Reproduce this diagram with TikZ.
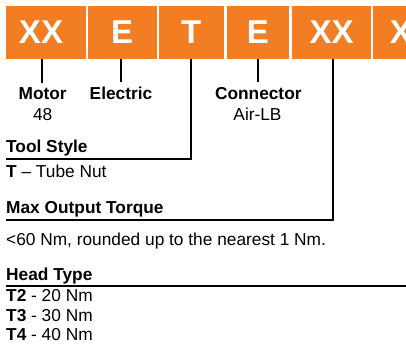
\documentclass[tikz,border=0pt]{standalone}
\usepackage{fontspec}
\setmainfont{Liberation Sans}
\usepackage{xcolor}
\usetikzlibrary{positioning}
\definecolor{codeorange}{RGB}{243,125,34}

\begin{document}
\begin{tikzpicture}[x=1pt, y=-1pt,
    codebox/.style={fill=codeorange, text=white, font=\fontsize{33}{36}\selectfont\bfseries,
        minimum height=53.3pt, inner sep=0pt, outer sep=0pt},
    tag/.style={font=\fontsize{17.3}{20}\selectfont, inner sep=0pt, anchor=base},
    boldtag/.style={tag, font=\fontsize{17.3}{20}\selectfont\bfseries},
    head/.style={boldtag, anchor=base west},
    entry/.style={tag, anchor=base west},
    lead/.style={line width=2pt, line join=miter}]

    \useasboundingbox (0,0) rectangle (406,352);

    % code boxes
    \begin{scope}
        \clip (6,0) rectangle (406,70);
        \node[codebox, minimum width=89.4pt] (b1) at (41,32.65) {XX};
        \node[codebox, minimum width=69pt] (b2) at (122.2,32.65) {E};
        \node[codebox, minimum width=65.3pt] (b3) at (191.3,32.65) {T};
        \node[codebox, minimum width=62.6pt] (b4) at (258,32.65) {E};
        \node[codebox, minimum width=78.7pt] (b5) at (331.7,32.65) {XX};
        \node[codebox, minimum width=77.4pt] (b6) at (412,32.65) {XX};
    \end{scope}

    % labels under the boxes
    \node[boldtag] (motor) at (42.7,100) {Motor};
    \node[tag] (motorval) at (42.7,120.7) {48};
    \node[boldtag] (electric) at (121,100) {Electric};
    \node[boldtag] (connector) at (258.3,100) {Connector};
    \node[tag] (connval) at (257.5,120.7) {Air-LB};

    \node[head] (tool) at (6,152.7) {Tool Style};
    \node[entry] (toolval) at (6,177.3) {\textbf{T} -- Tube Nut};

    \node[head] (torque) at (6,213.3) {Max Output Torque};
    \node[entry] (torqueval) at (6,245) {<60 Nm, rounded up to the nearest 1 Nm.};

    \node[head] (headtype) at (6,280) {Head Type};
    \foreach \t/\v/\y in {2/20/301.7, 3/30/321.2, 4/40/340.7}
        \node[entry] (head\t) at (6,\y) {\textbf{T\t} - \v\ Nm};

    \coordinate (toolend) at (6,159.3);
    \coordinate (torqueend) at (6,220);
    \coordinate (headl) at (6,285.7);
    \coordinate (headr) at (406,285.7);

    % leader lines
    \draw[lead, shorten >=5.3pt] ([xshift=1pt]b1.south) -- ([xshift=1pt]b1.south |- motor.north);
    \draw[lead, shorten >=5.3pt] ([xshift=-0.9pt]b2.south) -- ([xshift=-0.9pt]b2.south |- electric.north);
    \draw[lead, shorten >=5.3pt] (b4.south) -- (b4.south |- connector.north);
    \draw[lead] ([xshift=-0.6pt]b3.south) |- (toolend);
    \draw[lead] ([xshift=1.6pt]b5.south) |- (torqueend);
    \draw[lead] (headl) -- (headr);

\end{tikzpicture}
\end{document}
